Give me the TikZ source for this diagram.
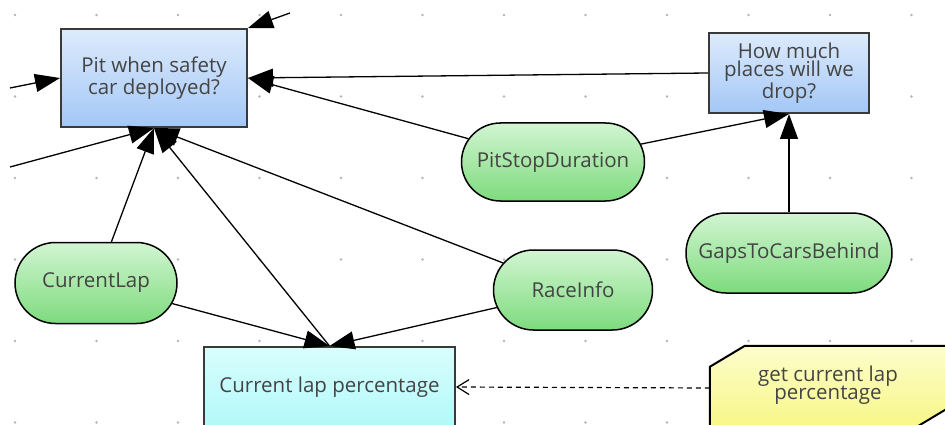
\documentclass[tikz,border=0pt]{standalone}
\usepackage{fontspec}
\setmainfont{Open Sans}
\usetikzlibrary{arrows.meta,shapes.misc}
\definecolor{dotc}{HTML}{B4B4B4}
\definecolor{txt}{HTML}{444444}
\definecolor{boxborder}{HTML}{3A3A3A}
\definecolor{blueT}{HTML}{DDEBFC}
\definecolor{blueB}{HTML}{A3C7F6}
\definecolor{greenT}{HTML}{D2F5D2}
\definecolor{greenB}{HTML}{7DDB7D}
\definecolor{cyanT}{HTML}{DAFDFD}
\definecolor{cyanB}{HTML}{B2F9F9}
\definecolor{yelT}{HTML}{FDFDCC}
\definecolor{yelB}{HTML}{F7F785}
\newcommand{\txtfont}{\fontsize{20.5}{18.5}\selectfont}
\tikzset{
  qbox/.style={rectangle, draw=boxborder, line width=2pt, top color=blueT, bottom color=blueB,
    text=txt, font=\txtfont, align=center, inner sep=0pt},
  vbox/.style={rounded rectangle, draw=black, line width=1.5pt, top color=greenT, bottom color=greenB,
    text=txt, font=\txtfont, align=center, inner sep=0pt, minimum height=80pt},
  cbox/.style={rectangle, draw=boxborder, line width=2pt, top color=cyanT, bottom color=cyanB,
    text=txt, font=\txtfont, align=center, inner sep=0pt},
  arr/.style={draw=black, line width=1.3pt, -{Triangle[length=25pt,width=18pt]}},
  darr/.style={draw=black, line width=1.2pt, dash pattern=on 5pt off 4pt, -{Straight Barb[length=12pt,width=15pt]}},
}
\begin{document}
\begin{tikzpicture}[x=1pt,y=-1pt]
\useasboundingbox (0,0) rectangle (945,425);
\clip (0,0) rectangle (945,425);
% grid dots
\foreach \i in {0,...,11}{\foreach \j in {0,...,5}{\fill[dotc] (15+81.5*\i,15+81.5*\j) circle (1.3);}}
% nodes
\node[qbox, minimum width=186pt, minimum height=98pt] (pit) at (154,78) {Pit when safety\\car deployed?};
\node[qbox, minimum width=160pt, minimum height=80pt] (drop) at (789,73) {How much\\places will we\\drop?};
\node[vbox, minimum width=183pt, minimum height=78pt] (psd) at (553,162) {PitStopDuration};
\node[vbox, minimum width=206pt] (gaps) at (789,253) {GapsToCarsBehind};
\node[vbox, minimum width=162pt, minimum height=81pt] (clap) at (96,283) {CurrentLap};
\node[vbox, minimum width=159pt] (race) at (573,290) {RaceInfo};
\node[cbox, minimum width=251pt, minimum height=80pt] (clp) at (329.5,387) {Current lap percentage};
\node[rectangle, minimum width=236pt, minimum height=84pt, inner sep=0pt] (get) at (828,388) {};
\filldraw[draw=black, line width=2pt, top color=yelT, bottom color=yelB]
  ([yshift=-21pt]get.north west) -- ([xshift=35pt]get.north west) -- (get.north east)
  -- ([yshift=21pt]get.south east) -- ([xshift=-35pt]get.south east) -- (get.south west) -- cycle;
\node[text=txt, font=\txtfont, align=center] (gettext) at (828,385) {get current lap\\percentage};
% free ends
\coordinate (tr) at (290,13);
\coordinate (lf) at (10,88);
\coordinate (lf2) at (10,167);
% connectors
\draw[arr] (tr) -- (pit.north east);
\draw[arr] (lf) -- (pit.west);
\draw[arr] (drop.west) -- (pit.east);
\draw[arr] (psd) -- (pit.east);
\draw[arr] (psd) -- (drop.south);
\draw[arr] (gaps.north) -- (drop.south);
\draw[arr] (lf2) -- (pit.south);
\draw[arr] (clap) -- (pit.south);
\draw[arr] (clp.north) -- (pit.south);
\draw[arr] (race) -- (pit.south);
\draw[arr] (clap) -- (clp.north);
\draw[arr] (race) -- (clp.north);
\draw[darr] (get.west) -- (clp.east);
\end{tikzpicture}
\end{document}
